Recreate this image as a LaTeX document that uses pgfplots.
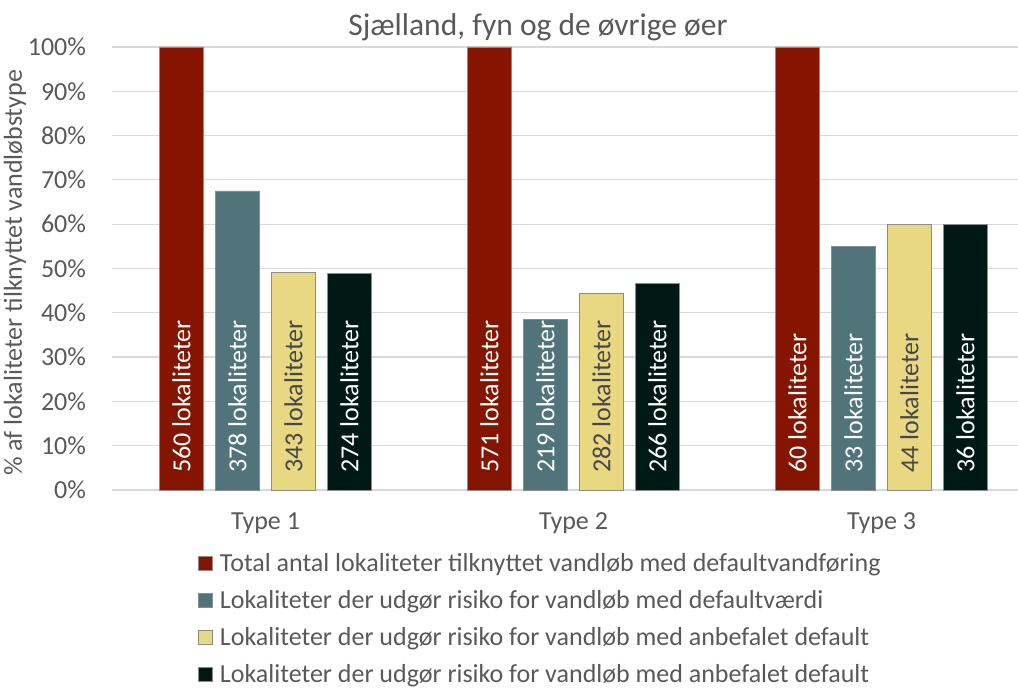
\documentclass[border=0pt]{standalone}
\usepackage{pgfplots}
\pgfplotsset{compat=1.18}
\usepackage{fontspec}
\setmainfont{Carlito}
\definecolor{cred}{RGB}{133,21,0}
\definecolor{cteal}{RGB}{80,116,122}
\definecolor{cyel}{RGB}{232,216,130}
\definecolor{cblk}{RGB}{1,25,20}
\definecolor{txt}{RGB}{89,89,89}
\definecolor{grd}{RGB}{217,217,217}
\definecolor{edge}{RGB}{140,140,140}
\pgfplotstableread{
x y n
1 100 560
2 100 571
3 100 60
}\tred
\pgfplotstableread{
x y n
1 67.5 378
2 38.4 219
3 55.0 33
}\tteal
\pgfplotstableread{
x y n
1 49.1 343
2 44.3 282
3 60.0 44
}\tyel
\pgfplotstableread{
x y n
1 48.9 274
2 46.6 266
3 60.0 36
}\tblk
\newcommand{\fs}{\fontsize{26}{31}\selectfont}
\pgfplotsset{
  barlab/.style={
    nodes near coords={\pgfplotspointmeta{} lokaliteter},
    point meta=explicit symbolic,
    visualization depends on={y \as \rawy},
    every node near coord/.append style={
      shift={(axis direction cs:0,-\rawy)}, rotate=90, anchor=west,
      inner xsep=17pt, inner ysep=0pt, font=\fs, text=#1},
  },
}
\begin{document}
\begin{tikzpicture}
\useasboundingbox (0pt,0pt) rectangle (1018pt,688pt);
\begin{axis}[
  at={(111.5pt,198pt)}, anchor=south west,
  scale only axis, width=906.5pt, height=443pt,
  xmin=0.5, xmax=3.443, ymin=0, ymax=100,
  ybar, bar width=0.1429,
  axis line style={draw=none},
  ymajorgrids, grid style={grd, line width=1.2pt},
  ytick={0,10,...,100},
  yticklabel={\pgfmathprintnumber{\tick}\%},
  xtick={1,2,3}, xticklabels={Type 1,Type 2,Type 3},
  major tick length=0pt,
  tick label style={font=\fs, text=txt},
  yticklabel style={xshift=-22pt},
  xticklabel style={yshift=-19pt},
  /pgf/number format/assume math mode=true,
  ylabel={\% af lokaliteter tilknyttet vandløbstype},
  ylabel style={at={(axis description cs:-0.1065,0.49)}, anchor=center, font=\fs, text=txt},
  title={Sjælland, fyn og de øvrige øer},
  title style={at={(axis description cs:0.4705,1)}, anchor=base, yshift=5pt, font=\fontsize{31.5}{37}\selectfont, text=txt},
  legend style={at={(axis description cs:0.0954,-0.139)}, anchor=north west, draw=none, fill=none,
    font=\fs, text=txt, row sep=13.5pt, inner sep=0pt,
    /tikz/every odd column/.append style={column sep=5pt}},
  legend cell align=left,
  legend image code/.code={\draw[#1, draw=edge, line width=0.8pt] (0pt,-7pt) rectangle (14pt,7pt);},
  clip=false,
]
\addplot[fill=cred, draw=edge, line width=0.8pt, bar shift=-0.2727, barlab=white] table[meta=n] {\tred};
\addlegendentry{Total antal lokaliteter tilknyttet vandløb med defaultvandføring}
\addplot[fill=cteal, draw=edge, line width=0.8pt, bar shift=-0.0909, barlab=white] table[meta=n] {\tteal};
\addlegendentry{Lokaliteter der udgør risiko for vandløb med defaultværdi}
\addplot[fill=cyel, draw=edge, line width=0.8pt, bar shift=0.0909, barlab={txt!80!black}] table[meta=n] {\tyel};
\addlegendentry{Lokaliteter der udgør risiko for vandløb med anbefalet default}
\addplot[fill=cblk, draw=edge, line width=0.8pt, bar shift=0.2727, barlab=white] table[meta=n] {\tblk};
\addlegendentry{Lokaliteter der udgør risiko for vandløb med anbefalet default}
\end{axis}
\end{tikzpicture}
\end{document}
